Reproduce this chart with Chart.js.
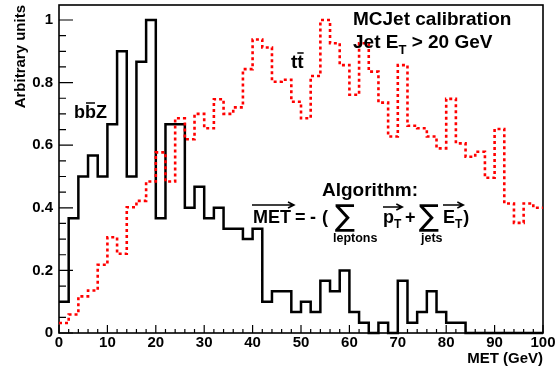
<!DOCTYPE html>
<html><head><meta charset="utf-8">
<script src="https://cdn.jsdelivr.net/npm/chart.js@4/dist/chart.umd.min.js"></script>
<style>html,body{margin:0;padding:0;background:#fff;}#wrap{width:556px;height:368px;}</style>
</head><body><div id="wrap"><canvas id="c" width="556" height="368"></canvas></div>
<script>
// Bin lower edges (GeV), 2 GeV bins
const binEdges = [0,2,4,6,8,10,12,14,16,18,20,22,24,26,28,30,32,34,36,38,40,42,44,46,48,
                  50,52,54,56,58,60,62,64,66,68,70,72,74,76,78,80,82,84,86,88,90,92,94,96,98];
const xMaxEdge = 100;
// b bbar Z (black solid)
const bbZ = [0.100,0.367,0.500,0.567,0.500,0.667,0.900,0.500,0.867,1.000,
             0.367,0.667,0.667,0.400,0.467,0.367,0.400,0.333,0.333,0.300,
             0.333,0.100,0.133,0.133,0.067,0.100,0.067,0.167,0.133,0.200,
             0.067,0.033,0.000,0.033,0.000,0.167,0.033,0.067,0.133,0.067,
             0.033,0.033,0.000,0.000,0.000,0.000,0.000,0.000,0.000,0.000];
// t tbar (red dotted)
const ttbar = [0.032,0.059,0.117,0.136,0.218,0.306,0.253,0.402,0.422,0.484,
               0.577,0.484,0.686,0.619,0.700,0.654,0.747,0.700,0.721,0.843,
               0.938,0.912,0.803,0.809,0.739,0.686,0.821,1.000,0.926,0.856,
               0.761,0.926,0.835,0.736,0.628,0.856,0.662,0.654,0.628,0.590,
               0.748,0.606,0.563,0.579,0.496,0.652,0.414,0.352,0.414,0.400];
const xTickLabels = [0,10,20,30,40,50,60,70,80,90,100];
const yTickLabels = [0,0.2,0.4,0.6,0.8,1];

function histPoints(vals){
  const pts = binEdges.map((e,i)=>({x:e,y:vals[i]}));
  pts.push({x:xMaxEdge,y:vals[vals.length-1]});
  return pts;
}

const FONT = '"Liberation Sans", Arial, Helvetica, sans-serif';

function txt(ctx,s,x,y,size,weight){
  ctx.font = (weight||'bold')+' '+size+'px '+FONT;
  ctx.textAlign='left'; ctx.textBaseline='alphabetic';
  ctx.fillText(s,x,y);
  return ctx.measureText(s).width;
}
function arrow(ctx,x1,x2,y){
  ctx.beginPath();
  ctx.moveTo(x1,y); ctx.lineTo(x2,y);
  ctx.moveTo(x2-6,y-3); ctx.lineTo(x2,y); ctx.lineTo(x2-6,y+3);
  ctx.stroke();
}
function sigma(ctx,x,y,size){
  ctx.font = size+'px "DejaVu Sans", sans-serif';
  ctx.textAlign='left'; ctx.textBaseline='alphabetic';
  ctx.fillText('\u2211',x,y);
  return ctx.measureText('\u2211').width;
}

const decor = {
  id:'decor',
  beforeDatasetsDraw(chart){
    const {ctx, chartArea:a, scales:{x,y}} = chart;
    ctx.save();
    ctx.strokeStyle='#000';
    ctx.lineWidth=1.2;
    ctx.beginPath();
    for(let i=0;i<=50;i++){
      const px = x.getPixelForValue(i*2);
      const len = (i%5===0)?8:4;
      ctx.moveTo(px,a.bottom); ctx.lineTo(px,a.bottom-len);
    }
    for(let i=0;i<=20;i++){
      const py = y.getPixelForValue(i*0.05);
      const len = (i%4===0)?14:7;
      ctx.moveTo(a.left,py); ctx.lineTo(a.left+len,py);
    }
    ctx.stroke();
    ctx.lineWidth=1.6;
    ctx.strokeRect(a.left,a.top,a.right-a.left,a.bottom-a.top);
    ctx.restore();
  },
  afterDraw(chart){
    const ctx = chart.ctx;
    ctx.save();
    ctx.fillStyle='#000'; ctx.strokeStyle='#000'; ctx.lineWidth=1.5;
    // Title block
    txt(ctx,'MCJet calibration',353,25,19);
    let cx = 353;
    cx += txt(ctx,'Jet E',cx,48,19);
    cx += txt(ctx,'T',cx,54,13);
    txt(ctx,' > 20 GeV',cx,48,19);
    // t tbar
    let w1 = txt(ctx,'t',291,68,19);
    let w2 = txt(ctx,'t',291+w1,68,19);
    ctx.beginPath(); ctx.moveTo(291+w1,53); ctx.lineTo(291+w1+w2,53); ctx.stroke();
    // b bbar Z
    let b1 = txt(ctx,'b',74,118,18);
    let b2 = txt(ctx,'b',74+b1,118,18);
    txt(ctx,'Z',74+b1+b2,118,18);
    ctx.beginPath(); ctx.moveTo(74+b1+1,103); ctx.lineTo(74+b1+b2-1,103); ctx.stroke();
    // Algorithm
    txt(ctx,'Algorithm:',322,196,19);
    // Formula
    const by = 223;
    let wm = txt(ctx,'MET',253,by,18);
    arrow(ctx,252,253+wm+3,205);
    txt(ctx,'=',295,by,18);
    txt(ctx,'-',310,by,18);
    txt(ctx,'(',322,by,18);
    sigma(ctx,335,by+3,30);
    txt(ctx,'leptons',333,242,12.5);
    let wp = txt(ctx,'p',383,by,18);
    let wt = txt(ctx,'T',383+wp,by+5,12);
    arrow(ctx,383,383+wp+wt+1,207);
    txt(ctx,'+',405,by,18);
    sigma(ctx,419,by+3,30);
    txt(ctx,'jets',421,242,12.5);
    let we = txt(ctx,'E',443,by,18);
    let wt2 = txt(ctx,'T',443+we,by+5,12);
    arrow(ctx,443,443+we+wt2+1,205);
    txt(ctx,')',443+we+wt2+1,by,18);
    ctx.restore();
  }
};

new Chart(document.getElementById('c'),{
  type:'line',
  data:{datasets:[
    {label:'ttbar',data:histPoints(ttbar),stepped:'before',borderColor:'#ff0000',borderWidth:2.6,
     borderDash:[3,3],pointRadius:0,fill:false,clip:false},
    {label:'bbZ',data:histPoints(bbZ),stepped:'before',borderColor:'#000000',borderWidth:2.5,
     pointRadius:0,fill:false,clip:false}
  ]},
  options:{
    responsive:false,animation:false,devicePixelRatio:1,
    layout:{padding:{left:0,right:13,top:5,bottom:0}},
    plugins:{legend:{display:false},tooltip:{enabled:false}},
    scales:{
      x:{type:'linear',min:0,max:100,
        grid:{display:false,drawTicks:false},border:{display:false},
        afterBuildTicks:s=>{s.ticks=xTickLabels.map(v=>({value:v}));},
        afterFit:s=>{s.height=35;s.paddingLeft=0;s.paddingRight=0;},
        ticks:{autoSkip:false,maxRotation:0,padding:2,color:'#000',font:{family:FONT,size:15,weight:'bold',lineHeight:1},
          callback:v=>String(v)},
        title:{display:true,text:'MET (GeV)',align:'end',color:'#000',
          font:{family:FONT,size:15,weight:'bold',lineHeight:1},padding:{top:0,bottom:1.5}}
      },
      y:{type:'linear',min:0,max:1.048,
        grid:{display:false,drawTicks:false},border:{display:false},
        afterBuildTicks:s=>{s.ticks=yTickLabels.map(v=>({value:v}));},
        afterFit:s=>{s.width=59;s.paddingTop=0;s.paddingBottom=0;},
        ticks:{autoSkip:false,padding:6,color:'#000',font:{family:FONT,size:15,weight:'bold',lineHeight:1},
          callback:v=>String(v)},
        title:{display:true,text:'Arbitrary units',align:'end',color:'#000',
          font:{family:FONT,size:15,weight:'bold',lineHeight:1},padding:{top:13,bottom:0}}
      }
    }
  },
  plugins:[decor]
});
</script>
</body></html>
